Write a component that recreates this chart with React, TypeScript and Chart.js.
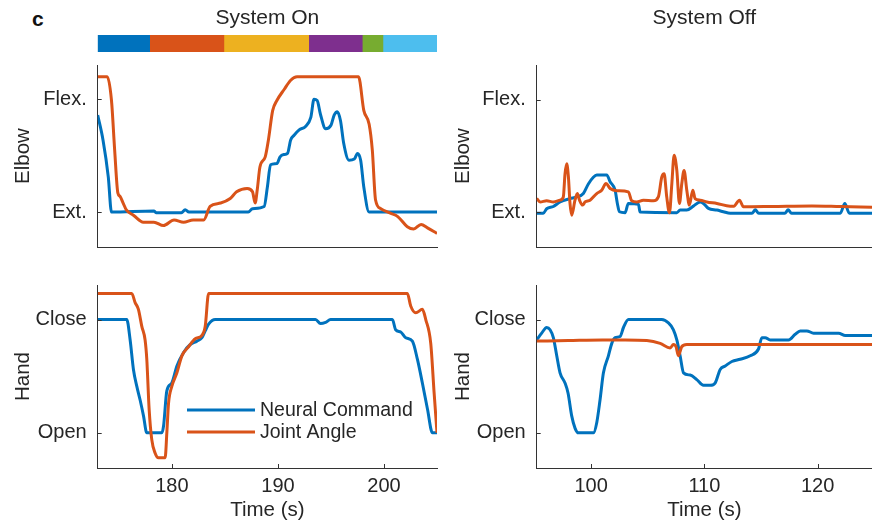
import React, { useEffect, useRef } from "react";
import { Chart, registerables } from "chart.js";
Chart.register(...registerables);

// ---------------- DATA ----------------
// Phase colour bar (System On), time in s
const phaseStarts = [173.0, 177.9, 184.9, 192.9, 197.95, 199.9];
const phaseEnds = [177.9, 184.9, 192.9, 197.95, 199.9, 205.0];

// Tick values / labels
const elbowTickValues = [0, 1];
const elbowTickLabels = ["Ext.", "Flex."];
const handTickValues = [0, 1];
const handTickLabels = ["Open", "Close"];
const onTimeTicks = [180, 190, 200];
const offTimeTicks = [100, 110, 120];

const seriesLabels = ["Neural Command", "Joint Angle"];

// System On – Elbow
const onElbowCmdT = [173.0, 173.5, 174.0, 174.3, 178.3, 178.5, 180.9, 181.25, 181.6, 187.2, 187.6, 188.7, 189.0, 189.3, 189.9, 190.2, 190.55, 190.9, 191.2, 191.5, 192.0, 192.6, 193.1, 193.4, 193.7, 194.0, 194.5, 195.0, 195.3, 195.6, 195.9, 196.2, 196.7, 197.2, 197.5, 197.8, 198.1, 198.6, 205.0];
const onElbowCmdV = [0.86, 0.64, 0.31, 0.0, 0.01, -0.005, -0.005, 0.02, 0.0, 0.0, 0.03, 0.05, 0.22, 0.42, 0.43, 0.49, 0.51, 0.52, 0.64, 0.68, 0.73, 0.76, 0.84, 1.0, 0.99, 0.87, 0.74, 0.77, 0.86, 0.89, 0.81, 0.61, 0.46, 0.47, 0.52, 0.46, 0.22, 0.0, 0.0];
const onElbowAngT = [173.0, 173.9, 174.3, 174.6, 174.9, 175.1, 175.4, 175.7, 176.4, 177.3, 178.3, 179.2, 180.2, 181.1, 182.0, 183.0, 183.6, 184.6, 185.5, 186.1, 187.1, 187.6, 187.85, 188.05, 188.3, 188.8, 189.1, 189.5, 189.9, 190.6, 191.2, 191.8, 197.6, 198.1, 198.6, 198.9, 199.2, 199.7, 200.6, 201.3, 202.2, 202.8, 203.5, 204.1, 205.0];
const onElbowAngV = [1.2, 1.2, 0.99, 0.55, 0.17, 0.14, 0.08, 0.02, -0.03, -0.09, -0.09, -0.12, -0.07, -0.09, -0.07, -0.07, 0.05, 0.08, 0.12, 0.18, 0.21, 0.18, 0.08, 0.2, 0.4, 0.49, 0.64, 0.9, 0.99, 1.09, 1.17, 1.2, 1.2, 0.9, 0.78, 0.55, 0.11, 0.03, -0.01, -0.04, -0.13, -0.15, -0.11, -0.14, -0.19];

// System On – Hand
const onHandCmdT = [173.0, 175.74, 176.06, 176.37, 176.69, 177.0, 177.32, 177.63, 179.05, 179.21, 179.52, 179.99, 180.47, 181.1, 181.73, 182.36, 182.83, 183.14, 183.46, 184.09, 193.54, 194.01, 194.49, 194.96, 200.79, 201.1, 201.58, 202.05, 202.68, 203.15, 203.62, 204.1, 204.57, 205.0];
const onHandCmdV = [1.0, 1.0, 0.82, 0.56, 0.41, 0.29, 0.15, 0.0, 0.0, 0.06, 0.37, 0.44, 0.59, 0.71, 0.78, 0.81, 0.84, 0.9, 0.96, 1.0, 1.0, 0.965, 0.975, 1.0, 1.0, 0.91, 0.89, 0.84, 0.81, 0.65, 0.44, 0.21, 0.0, 0.0];
const onHandAngT = [173.0, 176.21, 176.53, 176.84, 177.16, 177.47, 177.63, 177.85, 178.1, 178.42, 178.73, 179.36, 179.52, 179.68, 179.99, 180.47, 180.94, 181.57, 182.2, 182.83, 183.14, 183.46, 202.21, 202.52, 203.0, 203.62, 203.94, 204.41, 204.73, 205.0];
const onHandAngV = [1.23, 1.23, 1.15, 1.09, 0.94, 0.82, 0.65, 0.21, -0.06, -0.18, -0.22, -0.22, 0.0, 0.26, 0.41, 0.53, 0.68, 0.76, 0.83, 0.86, 0.94, 1.23, 1.23, 1.12, 1.06, 1.09, 1.0, 0.79, 0.35, 0.0];

// System Off – Elbow
const offElbowCmdT = [95.2, 95.78, 96.08, 96.67, 97.26, 98.14, 98.73, 99.32, 99.76, 100.2, 100.5, 101.38, 101.68, 102.12, 102.32, 102.5, 103.0, 103.29, 104.18, 104.33, 107.57, 107.86, 108.45, 109.03, 109.63, 109.92, 110.36, 111.1, 111.68, 112.28, 114.2, 114.5, 114.8, 117.1, 117.4, 117.7, 122.0, 122.4, 122.8, 124.8];
const offElbowCmdV = [-0.01, -0.01, 0.03, 0.05, 0.09, 0.12, 0.135, 0.165, 0.25, 0.31, 0.33, 0.33, 0.27, 0.195, 0.077, 0.003, -0.005, 0.077, 0.07, 0.0, -0.005, 0.018, 0.018, 0.053, 0.09, 0.077, 0.033, 0.018, 0.003, -0.01, -0.01, 0.02, -0.01, -0.01, 0.02, -0.01, -0.01, 0.077, -0.01, -0.01];
const offElbowAngT = [95.2, 95.5, 96.08, 96.67, 97.26, 97.55, 97.7, 97.85, 98.0, 98.14, 98.29, 98.58, 98.79, 98.98, 99.26, 99.47, 99.91, 100.5, 100.94, 101.32, 101.68, 102.27, 103.29, 103.59, 104.03, 104.62, 105.5, 105.94, 106.24, 106.45, 106.68, 106.92, 107.13, 107.33, 107.57, 107.8, 108.01, 108.21, 108.45, 108.68, 108.98, 109.18, 109.63, 110.22, 111.1, 112.28, 112.6, 113.1, 113.45, 116.0, 119.5, 122.0, 124.8];
const offElbowAngV = [0.12, 0.09, 0.1, 0.09, 0.106, 0.135, 0.34, 0.43, 0.31, 0.077, -0.027, 0.106, 0.165, 0.106, 0.062, 0.09, 0.106, 0.165, 0.195, 0.254, 0.21, 0.19, 0.18, 0.1, 0.09, 0.106, 0.1, 0.135, 0.31, 0.34, 0.135, -0.006, 0.254, 0.504, 0.37, 0.077, 0.254, 0.37, 0.195, 0.062, 0.195, 0.12, 0.106, 0.09, 0.077, 0.053, 0.053, 0.106, 0.047, 0.05, 0.055, 0.05, 0.044];

// System Off – Hand
const offHandCmdT = [95.2, 95.64, 96.08, 96.38, 96.67, 96.97, 97.26, 97.7, 97.97, 98.29, 98.59, 98.88, 100.21, 100.5, 100.79, 101.09, 101.53, 101.83, 102.12, 102.56, 102.86, 103.3, 106.24, 106.83, 107.27, 107.57, 107.86, 108.16, 108.75, 109.33, 109.92, 110.51, 110.95, 111.4, 111.84, 112.43, 113.16, 114.05, 114.78, 115.08, 115.37, 115.81, 117.43, 118.02, 118.46, 119.05, 119.64, 121.85, 122.44, 124.82];
const offHandCmdV = [0.82, 0.88, 0.93, 0.91, 0.84, 0.68, 0.53, 0.44, 0.35, 0.15, 0.04, 0.0, 0.0, 0.09, 0.29, 0.53, 0.68, 0.79, 0.84, 0.85, 0.93, 1.0, 1.0, 0.97, 0.91, 0.82, 0.68, 0.53, 0.51, 0.47, 0.42, 0.42, 0.44, 0.56, 0.59, 0.63, 0.65, 0.68, 0.74, 0.84, 0.84, 0.82, 0.82, 0.87, 0.9, 0.9, 0.88, 0.88, 0.86, 0.86];
const offHandAngT = [95.2, 98.0, 101.0, 103.0, 104.92, 106.1, 106.98, 107.27, 107.5, 107.71, 108.0, 108.45, 110.0, 113.0, 116.0, 119.0, 122.0, 124.82];
const offHandAngV = [0.81, 0.815, 0.82, 0.82, 0.815, 0.79, 0.75, 0.78, 0.76, 0.68, 0.76, 0.78, 0.78, 0.78, 0.78, 0.78, 0.78, 0.78];

// ---------------- STYLE ----------------
const BLUE = "#0072BD";
const ORANGE = "#D95319";
const PHASE_COLORS = ["#0072BD", "#D95319", "#EDB120", "#7E2F8E", "#77AC30", "#4DBEEE"];
const FONT = "'Liberation Sans', Arial, Helvetica, sans-serif";
const TEXT = "#262626";
const AXIS = "#333333";
const Y_MIN = -0.31;
const Y_MAX = 1.305;
const ON_RANGE = [173.0, 205.0];
const OFF_RANGE = [95.2, 124.8];

const pts = (t: number[], v: number[]) => t.map((x, i) => ({ x, y: v[i] }));

const inTicks = {
  id: "inTicks",
  afterDraw(chart: any) {
    const { ctx, chartArea } = chart;
    ctx.save();
    ctx.strokeStyle = AXIS;
    ctx.lineWidth = 1;
    const ys = chart.scales.y;
    ys.ticks.forEach((tk: any) => {
      const py = Math.round(ys.getPixelForValue(tk.value)) + 0.5;
      ctx.beginPath();
      ctx.moveTo(chartArea.left, py);
      ctx.lineTo(chartArea.left + 4, py);
      ctx.stroke();
    });
    const xs = chart.scales.x;
    if (xs.options.ticks.display) {
      xs.ticks.forEach((tk: any) => {
        const px = Math.round(xs.getPixelForValue(tk.value)) + 0.5;
        ctx.beginPath();
        ctx.moveTo(px, chartArea.bottom);
        ctx.lineTo(px, chartArea.bottom - 4);
        ctx.stroke();
      });
    }
    ctx.restore();
  },
};

function makeLegend(dx: number, dy: number) {
  return {
    id: "lineLegend",
    afterDraw(chart: any) {
      const { ctx, chartArea } = chart;
      const x0 = chartArea.left + dx;
      const y0 = chartArea.top + dy;
      ctx.save();
      chart.data.datasets.forEach((ds: any, i: number) => {
        const y = y0 + i * 22;
        ctx.strokeStyle = ds.borderColor;
        ctx.lineWidth = 3;
        ctx.beginPath();
        ctx.moveTo(x0, y);
        ctx.lineTo(x0 + 68, y);
        ctx.stroke();
        ctx.fillStyle = TEXT;
        ctx.font = `19.5px ${FONT}`;
        ctx.textBaseline = "middle";
        ctx.textAlign = "left";
        ctx.fillText(ds.label, x0 + 73, y + 1);
      });
      ctx.restore();
    },
  };
}

type PanelProps = {
  left: number; top: number; width: number; height: number;
  cmdT: number[]; cmdV: number[]; angT: number[]; angV: number[];
  range: number[]; xTicks: number[] | null;
  yTicks: number[]; yLabels: string[]; yTitle: string;
  yWidth: number; xHeight: number;
  padding: any; title?: string; legend?: boolean;
};

function Panel(p: PanelProps) {
  const ref = useRef<HTMLCanvasElement>(null);
  useEffect(() => {
    const plugins: any[] = [inTicks];
    if (p.legend) plugins.push(makeLegend(89.3, 125));
    const chart = new Chart(ref.current as HTMLCanvasElement, {
      type: "line",
      data: {
        datasets: [
          { label: seriesLabels[0], data: pts(p.cmdT, p.cmdV), borderColor: BLUE, borderWidth: 3, pointRadius: 0, cubicInterpolationMode: "monotone", order: 1, borderJoinStyle: "round" } as any,
          { label: seriesLabels[1], data: pts(p.angT, p.angV), borderColor: ORANGE, borderWidth: 3, pointRadius: 0, cubicInterpolationMode: "monotone", order: 0, borderJoinStyle: "round" } as any,
        ],
      },
      options: {
        animation: false,
        responsive: false,
        devicePixelRatio: 1,
        layout: { padding: p.padding },
        plugins: {
          legend: { display: false },
          tooltip: { enabled: false },
          title: p.title
            ? { display: true, text: p.title, fullSize: false, color: TEXT, font: { family: FONT, size: 21, weight: "normal" }, padding: { top: 5, bottom: 34 } }
            : { display: false },
        },
        scales: {
          x: {
            type: "linear",
            min: p.range[0],
            max: p.range[1],
            afterBuildTicks: (s: any) => { s.ticks = (p.xTicks || []).map((v) => ({ value: v })); },
            afterFit: (s: any) => { s.height = p.xHeight; },
            ticks: { display: !!p.xTicks, color: TEXT, font: { family: FONT, size: 20 }, padding: 6, maxRotation: 0, autoSkip: false },
            grid: { display: false, drawTicks: false },
            border: { display: true, color: AXIS, width: 1 },
            title: { display: !!p.xTicks, text: "Time (s)", color: TEXT, font: { family: FONT, size: 20.5 }, padding: { top: 0, bottom: 1.7 } },
          },
          y: {
            type: "linear",
            min: Y_MIN,
            max: Y_MAX,
            afterBuildTicks: (s: any) => { s.ticks = p.yTicks.map((v) => ({ value: v })); },
            afterFit: (s: any) => { s.width = p.yWidth; },
            ticks: { color: TEXT, font: { family: FONT, size: 20 }, padding: 11, callback: (v: any) => p.yLabels[p.yTicks.indexOf(Number(v))] },
            grid: { display: false, drawTicks: false },
            border: { display: true, color: AXIS, width: 1 },
            title: { display: true, text: p.yTitle, color: TEXT, font: { family: FONT, size: 20.5 }, padding: { top: 10.6, bottom: 0 } },
          },
        },
      } as any,
      plugins,
    });
    return () => chart.destroy();
  }, []);
  return (
    <canvas ref={ref} width={p.width} height={p.height}
      style={{ position: "absolute", left: p.left, top: p.top, width: p.width, height: p.height }} />
  );
}

function PhaseBar() {
  const ref = useRef<HTMLCanvasElement>(null);
  useEffect(() => {
    const chart = new Chart(ref.current as HTMLCanvasElement, {
      type: "bar",
      data: {
        labels: ["phase"],
        datasets: phaseStarts.map((s, i) => ({
          data: [[s, phaseEnds[i]]],
          backgroundColor: PHASE_COLORS[i],
          borderWidth: 0,
          grouped: false,
          barPercentage: 1,
          categoryPercentage: 1,
        })) as any,
      },
      options: {
        indexAxis: "y",
        animation: false,
        responsive: false,
        devicePixelRatio: 1,
        layout: { padding: { left: 97.7, right: 3, top: 1, bottom: 5 } },
        plugins: {
          legend: { display: false },
          tooltip: { enabled: false },
          title: { display: true, text: "System On", fullSize: false, color: TEXT, font: { family: FONT, size: 21, weight: "normal" }, padding: { top: 5, bottom: 3.8 } },
        },
        scales: {
          x: { type: "linear", min: ON_RANGE[0], max: ON_RANGE[1], display: false },
          y: { display: false },
        },
      } as any,
    });
    return () => chart.destroy();
  }, []);
  return <canvas ref={ref} width={440} height={57} style={{ position: "absolute", left: 0, top: 0, width: 440, height: 57 }} />;
}

export default function App() {
  return (
    <div style={{ position: "absolute", left: 0, top: 0, width: 872, height: 524, overflow: "hidden", background: "#fff" }}>
      <div style={{ position: "absolute", left: 32, top: 9, fontFamily: FONT, fontWeight: "bold", fontSize: 21, lineHeight: "20px", color: "#111" }}>c</div>
      <PhaseBar />
      <Panel left={0} top={35} width={440} height={242}
        cmdT={onElbowCmdT} cmdV={onElbowCmdV} angT={onElbowAngT} angV={onElbowAngV}
        range={ON_RANGE} xTicks={null} yTicks={elbowTickValues} yLabels={elbowTickLabels} yTitle="Elbow"
        yWidth={97.7} xHeight={30} padding={{ left: 0, right: 3, top: 30, bottom: 0 }} />
      <Panel left={440} top={0} width={432} height={277}
        cmdT={offElbowCmdT} cmdV={offElbowCmdV} angT={offElbowAngT} angV={offElbowAngV}
        range={OFF_RANGE} xTicks={null} yTicks={elbowTickValues} yLabels={elbowTickLabels} yTitle="Elbow"
        yWidth={96.7} xHeight={30} padding={{ left: 0, right: 0, top: 1, bottom: 0 }} title="System Off" />
      <Panel left={0} top={255} width={440} height={269}
        cmdT={onHandCmdT} cmdV={onHandCmdV} angT={onHandAngT} angV={onHandAngV}
        range={ON_RANGE} xTicks={onTimeTicks} yTicks={handTickValues} yLabels={handTickLabels} yTitle="Hand"
        yWidth={97.7} xHeight={56} padding={{ left: 0, right: 3, top: 30, bottom: 0 }} legend />
      <Panel left={440} top={255} width={432} height={269}
        cmdT={offHandCmdT} cmdV={offHandCmdV} angT={offHandAngT} angV={offHandAngV}
        range={OFF_RANGE} xTicks={offTimeTicks} yTicks={handTickValues} yLabels={handTickLabels} yTitle="Hand"
        yWidth={96.7} xHeight={56} padding={{ left: 0, right: 0, top: 30, bottom: 0 }} />
    </div>
  );
}
